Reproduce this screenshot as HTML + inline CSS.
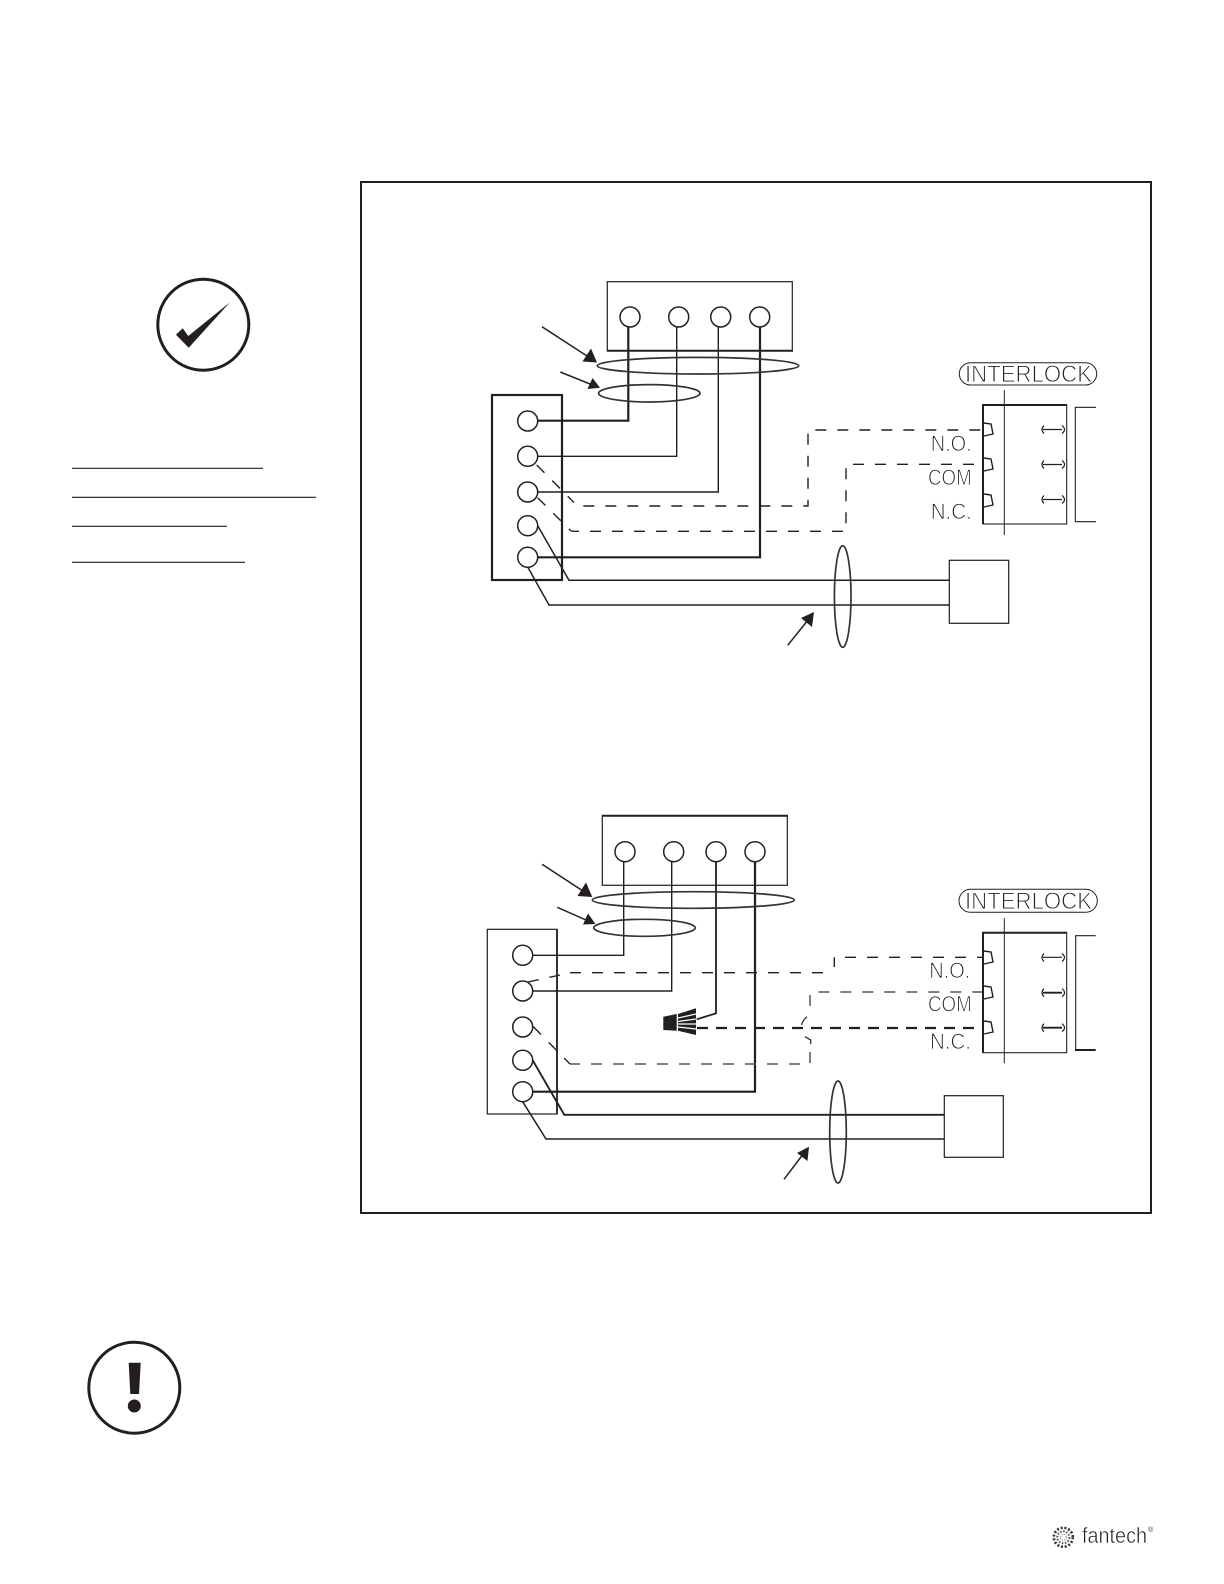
<!DOCTYPE html>
<html><head><meta charset="utf-8"><style>
html,body{margin:0;padding:0;background:#fff;}
svg{display:block;}
text{font-family:"Liberation Sans",sans-serif;}
.l{fill:none;stroke:#231f20;stroke-width:1.4;}
.t{fill:none;stroke:#231f20;stroke-width:2.2;}
.k{fill:none;stroke:#231f20;stroke-width:1.5;}
.d{fill:none;stroke:#231f20;stroke-width:1.4;stroke-dasharray:11 11;}
.g{fill:none;stroke:#555;stroke-width:1.5;stroke-dasharray:11 11;}
.h{fill:none;stroke:#231f20;stroke-width:2.2;stroke-dasharray:11 8;}
.c{fill:#fff;stroke:#231f20;stroke-width:1.5;}
.o{fill:none;stroke:#333;stroke-width:1.7;}
.lb{fill:#222;stroke:#fff;stroke-width:.8;font-size:22px;}
.il{fill:#222;stroke:#fff;stroke-width:.9;font-size:24px;}
.a{fill:#231f20;}
</style></head><body>
<svg width="1224" height="1584" viewBox="0 0 1224 1584" xmlns="http://www.w3.org/2000/svg">
<rect x="0" y="0" width="1224" height="1584" fill="#fff"/>
<!-- frame -->
<rect x="361" y="182" width="790" height="1031" fill="none" stroke="#231f20" stroke-width="2"/>

<!-- check icon -->
<circle cx="203.3" cy="324.7" r="45.5" fill="none" stroke="#231f20" stroke-width="3"/>
<polygon class="a" points="176,334.7 182.7,328.3 188.3,336 230,302.3 188.7,347.7"/>
<g stroke="#231f20" stroke-width="1.2">
<line x1="72" y1="468.3" x2="263" y2="468.3"/>
<line x1="72" y1="497.3" x2="316" y2="497.3"/>
<line x1="72" y1="526.3" x2="227" y2="526.3"/>
<line x1="72" y1="562.3" x2="245" y2="562.3"/>
</g>

<!-- warning icon -->
<circle cx="134.3" cy="1387.7" r="45.5" fill="none" stroke="#231f20" stroke-width="3"/>
<polygon class="a" points="128.7,1362.7 140.7,1362.7 139,1394 130.3,1394"/>
<circle class="a" cx="134.3" cy="1406" r="6.5"/>

<!-- DIAGRAM 1 -->
<rect x="607.3" y="281.7" width="185" height="69" fill="none" stroke="#231f20" stroke-width="1.2"/>
<line x1="607" y1="350.7" x2="793" y2="350.7" stroke="#231f20" stroke-width="2"/>
<rect x="492" y="395" width="70" height="185" fill="none" stroke="#231f20" stroke-width="2.2"/>

<path class="t" d="M537.7 420.7H628.3V327"/>
<path class="l" d="M537.7 456.3H676.7V327"/>
<path class="l" d="M537.7 492H718.3V327"/>
<path class="t" d="M537.7 557.3H760V327"/>
<path class="k" d="M537.7 525.7L569 580.3H949.3"/>
<path class="k" d="M527.7 567L549 605H949.3"/>

<path class="d" d="M536.7 465L574 502.5" />
<path class="d" d="M583.3 506H808V430H986" />
<path class="d" d="M537.7 497.7L570 530Q571.5 531.3 573 531.3H846V464.3H986" />

<ellipse class="o" cx="698" cy="365.7" rx="100.8" ry="8.3"/>
<ellipse class="o" cx="649.3" cy="393.3" rx="50.7" ry="8.7"/>
<line x1="542" y1="326.7" x2="587" y2="356" stroke="#231f20" stroke-width="1.5"/>
<polygon class="a" points="597,362.5 582.5,361.5 591,348.5"/>
<line x1="560.3" y1="372" x2="590" y2="384" stroke="#231f20" stroke-width="1.5"/>
<polygon class="a" points="600,387.7 587.5,389 592.5,378"/>

<circle class="c" cx="630" cy="317" r="10"/><circle class="c" cx="678.7" cy="317" r="10"/>
<circle class="c" cx="720.7" cy="317" r="10"/><circle class="c" cx="759.7" cy="317" r="10"/>
<circle class="c" cx="527.7" cy="421" r="10"/><circle class="c" cx="527.7" cy="456.3" r="10"/>
<circle class="c" cx="527.7" cy="492" r="10"/><circle class="c" cx="527.7" cy="525.7" r="10"/>
<circle class="c" cx="527.7" cy="557.3" r="10"/>

<rect x="949.3" y="560.3" width="59.4" height="63" fill="#fff" stroke="#231f20" stroke-width="1.2"/>
<ellipse class="o" cx="842.7" cy="596.5" rx="8.3" ry="50.8"/>
<line x1="787.7" y1="645.3" x2="808" y2="620" stroke="#231f20" stroke-width="1.5"/>
<polygon class="a" points="814,612 812,627 801,618"/>

<rect x="959.3" y="362.7" width="137.4" height="22.3" rx="11.2" fill="none" stroke="#231f20" stroke-width="1"/>
<text class="il" x="965" y="382" textLength="127" lengthAdjust="spacingAndGlyphs">INTERLOCK</text>

<rect x="983" y="405" width="83.7" height="119" fill="none" stroke="#231f20" stroke-width="1.1"/>
<path d="M983 524V405H1067" fill="none" stroke="#231f20" stroke-width="2"/>
<line x1="1004.3" y1="390" x2="1004.3" y2="535" stroke="#231f20" stroke-width="1"/>
<g fill="#fff" stroke="#231f20" stroke-width="1.4">
<path d="M984 423L991 424L993 434L984 436"/><path d="M984 458L991 459L993 469L984 471"/><path d="M984 494L991 495L993 505L984 507"/>
</g>
<g fill="none" stroke="#231f20" stroke-width="1.2">
<path d="M1044 425.5Q1040 429.5 1044 433.5M1043 429.5H1062M1062 425.5Q1067 429.5 1062 433.5"/>
<path d="M1044 460.5Q1040 464.5 1044 468.5M1043 464.5H1062M1062 460.5Q1067 464.5 1062 468.5"/>
<path d="M1044 495.5Q1040 499.5 1044 503.5M1043 499.5H1062M1062 495.5Q1067 499.5 1062 503.5"/>
</g>
<path d="M1096 407.3H1075.3V521.7H1096" fill="none" stroke="#231f20" stroke-width="1.1"/>
<text class="lb" x="930.7" y="451" textLength="41" lengthAdjust="spacingAndGlyphs">N.O.</text>
<text class="lb" x="928" y="485" textLength="43.7" lengthAdjust="spacingAndGlyphs">COM</text>
<text class="lb" x="930.7" y="519" textLength="41" lengthAdjust="spacingAndGlyphs">N.C.</text>

<!-- DIAGRAM 2 -->
<rect x="602.3" y="815.7" width="185" height="69.6" fill="none" stroke="#231f20" stroke-width="1.2"/>
<line x1="602" y1="815.7" x2="788" y2="815.7" stroke="#231f20" stroke-width="2"/>
<rect x="487.3" y="929.3" width="69.7" height="184.7" fill="none" stroke="#231f20" stroke-width="1.2"/>
<line x1="557" y1="929" x2="557" y2="1114" stroke="#231f20" stroke-width="1.8"/>

<path class="l" d="M532.7 955.3H623.7V862"/>
<path class="l" d="M532.7 991H671.7V862"/>
<path class="k" d="M716 860V1013.3L696.7 1019.3" style="stroke-width:1.8"/>
<path class="t" d="M532.7 1091.7H755V862"/>
<path class="k" d="M532.7 1060.3L564.3 1114.8H944.3" style="stroke-width:1.9"/>
<path class="k" d="M522.7 1101.7L546 1139H944.3"/>

<path class="d" d="M528 982L560 975" />
<path class="d" d="M570 972.7H830" />
<line x1="834.3" y1="957.3" x2="834.3" y2="967" stroke="#231f20" stroke-width="1.4"/>
<path class="d" d="M845 957.3H983"/>
<path class="g" d="M818.3 992H986"/>
<path class="g" d="M810 995V1014" stroke-dasharray="11 4"/>
<path d="M807 1016.7Q802 1021 801.7 1025M805 1036.7L810.7 1040V1044" fill="none" stroke="#333" stroke-width="1.3"/>
<path class="g" d="M810 1052V1064H570"/>
<path class="d" d="M533.3 1026.7L570 1064" />
<path class="h" d="M697 1028H984"/>

<polygon class="a" points="663.3,1016.7 676.7,1014 676.7,1030.7 663.3,1030"/>
<polygon class="a" points="678,1014 696,1008.3 696,1035 678,1030.7"/>
<g stroke="#fff" stroke-width="1.2">
<line x1="678" y1="1018" x2="696" y2="1014"/><line x1="678" y1="1021.5" x2="696" y2="1019"/>
<line x1="678" y1="1024" x2="696" y2="1024"/><line x1="678" y1="1027" x2="696" y2="1029"/>
</g>

<ellipse class="o" cx="693.3" cy="900" rx="101" ry="8.3"/>
<ellipse class="o" cx="644.5" cy="927.8" rx="50.8" ry="8.5"/>
<line x1="542" y1="864.3" x2="583" y2="891" stroke="#231f20" stroke-width="1.5"/>
<polygon class="a" points="592.3,897 577.5,896 586,882.5"/>
<line x1="557.3" y1="907.3" x2="586" y2="920" stroke="#231f20" stroke-width="1.5"/>
<polygon class="a" points="595.5,924 583,924.5 588,913.5"/>

<circle class="c" cx="625" cy="851.7" r="10"/><circle class="c" cx="673.7" cy="851.7" r="10"/>
<circle class="c" cx="716" cy="851.7" r="10"/><circle class="c" cx="755" cy="851.7" r="10"/>
<circle class="c" cx="522.7" cy="955.3" r="10"/><circle class="c" cx="522.7" cy="991" r="10"/>
<circle class="c" cx="522.7" cy="1027" r="10"/><circle class="c" cx="522.7" cy="1060.3" r="10"/>
<circle class="c" cx="522.7" cy="1091.7" r="10"/>

<rect x="944.3" y="1095.7" width="59" height="61.6" fill="#fff" stroke="#231f20" stroke-width="1.2"/>
<ellipse class="o" cx="838" cy="1132" rx="8.3" ry="51"/>
<line x1="784" y1="1179.3" x2="804" y2="1153" stroke="#231f20" stroke-width="1.5"/>
<polygon class="a" points="809,1146.7 807.5,1161 797,1153"/>

<rect x="959" y="889.3" width="138.3" height="23" rx="11.5" fill="none" stroke="#231f20" stroke-width="1"/>
<text class="il" x="965" y="909" textLength="127" lengthAdjust="spacingAndGlyphs">INTERLOCK</text>

<rect x="983" y="932.7" width="83.7" height="120" fill="none" stroke="#231f20" stroke-width="1.1"/>
<path d="M983 1052.7V932.7H1067" fill="none" stroke="#231f20" stroke-width="2"/>
<line x1="1004.3" y1="918.3" x2="1004.3" y2="1063.3" stroke="#231f20" stroke-width="1"/>
<g fill="#fff" stroke="#231f20" stroke-width="1.4">
<path d="M984 951L991 952L993 962L984 964"/><path d="M984 986L991 987L993 997L984 999"/><path d="M984 1021L991 1022L993 1032L984 1034"/>
</g>
<g fill="none" stroke="#231f20" stroke-width="1.2">
<path d="M1044 953.5Q1040 957.3 1044 961.5M1043 957.3H1062M1062 953.5Q1067 957.3 1062 961.5"/>
<path d="M1044 988.7Q1040 992.7 1044 996.7M1062 988.7Q1067 992.7 1062 996.7"/>
<line x1="1043" y1="992.7" x2="1062" y2="992.7" stroke-width="1.8"/>
<path d="M1044 1023.7Q1040 1027.7 1044 1031.7M1062 1023.7Q1067 1027.7 1062 1031.7"/>
<line x1="1043" y1="1027.7" x2="1062" y2="1027.7" stroke-width="1.8"/>
</g>
<path d="M1095.7 935.7H1075.7V1050" fill="none" stroke="#231f20" stroke-width="1.1"/>
<line x1="1075" y1="1050" x2="1095.7" y2="1050" stroke="#231f20" stroke-width="2"/>
<text class="lb" x="929.3" y="978" textLength="41" lengthAdjust="spacingAndGlyphs">N.O.</text>
<text class="lb" x="928" y="1011.7" textLength="43.7" lengthAdjust="spacingAndGlyphs">COM</text>
<text class="lb" x="930" y="1049" textLength="41" lengthAdjust="spacingAndGlyphs">N.C.</text>

<!-- logo -->
<g>
<circle cx="1063.3" cy="1537.3" r="9.5" fill="none" stroke="#333" stroke-width="2.6" stroke-dasharray="2 1.8"/>
<circle cx="1063.3" cy="1537.3" r="6" fill="none" stroke="#555" stroke-width="2" stroke-dasharray="1.6 1.5"/>
<circle cx="1063.3" cy="1537.3" r="3" fill="none" stroke="#999" stroke-width="1.4" stroke-dasharray="1.2 1.2"/>
</g>
<text x="1082" y="1543" font-size="22" fill="#222" stroke="#fff" stroke-width=".5" textLength="65" lengthAdjust="spacingAndGlyphs">fantech</text>
<text x="1148" y="1532" font-size="7" fill="#333">®</text>
</svg>
</body></html>
